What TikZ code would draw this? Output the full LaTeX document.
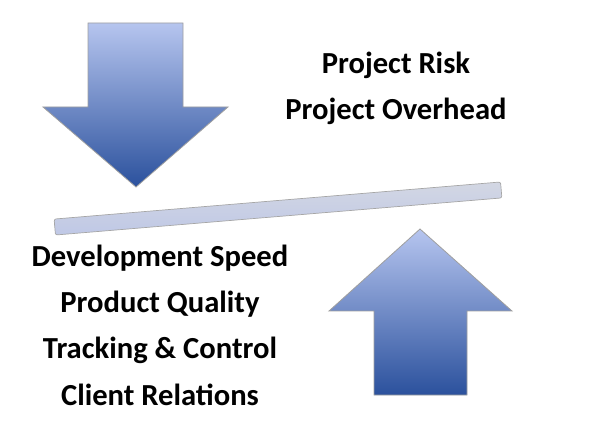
\documentclass[tikz,border=0pt]{standalone}
\usepackage{fontspec}
\setmainfont{Carlito}
\usetikzlibrary{positioning}
\definecolor{arrowtop}{HTML}{B6C5EF}
\definecolor{arrowbot}{HTML}{2B519D}
\definecolor{bartop}{HTML}{D3D7E3}
\definecolor{barmid}{HTML}{F3F5FD}
\definecolor{barbot}{HTML}{BFC8E6}
\tikzset{
  bigarrow/.style={top color=arrowtop, bottom color=arrowbot, draw=gray!75, line width=0.8pt},
  factor/.style={font=\bfseries\fontsize{30.6}{36}\selectfont, inner sep=0pt, text height=21pt, text depth=7pt},
  node distance=46pt
}

\begin{document}
\begin{tikzpicture}[x=1pt,y=-1pt]
\useasboundingbox (0,0) rectangle (608,430);
% down arrow
\shade[bigarrow] (88,23) -- (183,23) -- (183,107) -- (228,107) -- (136,187) -- (43,107) -- (88,107) -- cycle;
% up arrow
\shade[bigarrow] (374,395) -- (467,395) -- (467,311) -- (512,311) -- (420,229) -- (329,311) -- (374,311) -- cycle;
% the bar
\begin{scope}[shift={(278,208.5)},rotate=4.75]
\shade[top color=bartop, middle color=barmid, bottom color=barbot, draw=gray!70, line width=0.7pt, rounded corners=2pt] (-224,-8) rectangle (224,8);
\end{scope}
\node[factor] at (396,67) (risk) {Project Risk};
\node[factor, below of=risk] (overhead) {Project Overhead};
\node[factor] at (160,260) (speed) {Development Speed};
\node[factor, below of=speed] (quality) {Product Quality};
\node[factor, below of=quality] (tracking) {Tracking \& Control};
\node[factor, below of=tracking] (client) {Client Relations};
\end{tikzpicture}
\end{document}
